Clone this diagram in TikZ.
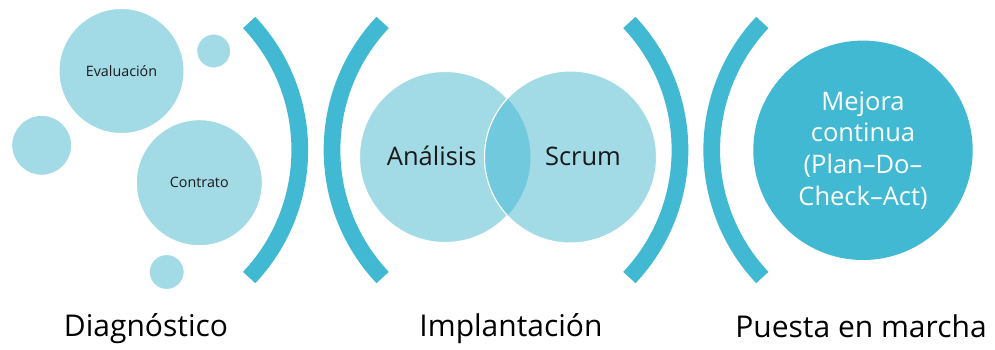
\documentclass[tikz,border=0pt]{standalone}
\usepackage{fontspec}
\setmainfont{Open Sans}
\usepackage{xcolor}
\usepackage{tikz}
\usetikzlibrary{positioning}
\definecolor{bubblefill}{HTML}{A2DBE6}
\definecolor{overlapfill}{HTML}{71C9DD}
\definecolor{accent}{HTML}{42B9D3}
\tikzset{
  bubble/.style={circle, fill=bubblefill, draw=white, line width=1pt, inner sep=0pt, outer sep=0pt,
                 text=black!90, font=\fontsize{14.3}{17}\selectfont},
  venn/.style={bubble},
  vtxt/.style={anchor=base, text=black!90, font=\fontsize{25.5}{31.7}\selectfont},
  bigdot/.style={circle, fill=accent, inner sep=0pt, align=center, text=white,
                 font=\fontsize{25.5}{31.7}\selectfont},
  paren/.style={accent, line width=16.7pt},
  phase/.style={anchor=base, text=black, font=\fontsize{30}{36}\selectfont}
}
\begin{document}
\begin{tikzpicture}[x=1pt, y=-1pt]
  \useasboundingbox (0,0) rectangle (995,350);
  % diagnostico
  \node[bubble, minimum size=125pt] (eval) at (121.5,71) {Evaluación};
  \node[bubble, minimum size=34pt] (dotA) at (213.7,51) {};
  \node[bubble, minimum size=60pt] (dotB) at (41.7,145.3) {};
  \node[bubble, minimum size=126pt] (contr) at (199.3,182.7) {Contrato};
  \node[bubble, minimum size=35pt] (dotC) at (166.7,272) {};
  % brackets
  \draw[paren] (113.8,150) ++(-43.3:186) arc[start angle=-43.3, end angle=43.3, radius=186];
  \draw[paren] (518,150) ++(136.7:186) arc[start angle=136.7, end angle=223.3, radius=186];
  \draw[paren] (494,150) ++(-43.3:186) arc[start angle=-43.3, end angle=43.3, radius=186];
  \draw[paren] (897.7,150) ++(136.7:186) arc[start angle=136.7, end angle=223.3, radius=186];
  % implantacion
  \node[venn, minimum size=171pt] (ana) at (445,157) {};
  \node[venn, minimum size=172pt] (scrum) at (570.5,157) {};
  \begin{scope}
    \clip (ana.center) circle[radius=85.5];
    \fill[overlapfill] (scrum.center) circle[radius=86];
    \draw[white, line width=1pt] (scrum.center) circle[radius=86];
  \end{scope}
  \node[vtxt] (anatxt) at ([shift={(-13.3,8)}]ana.center) {Análisis};
  \node[vtxt] (scrumtxt) at ([shift={(12.5,8)}]scrum.center) {Scrum};
  % puesta en marcha
  \node[bigdot, minimum size=219.4pt] (mejora) at (863,150.3) {Mejora\\continua\\(Plan–Do–\\Check–Act)};
  % phases
  \node[phase] (diag) at (146,336.7) {Diagnóstico};
  \node[phase] (impl) at (511,336.7) {Implantación};
  \node[phase] (puesta) at (861,337) {Puesta en marcha};
\end{tikzpicture}
\end{document}
